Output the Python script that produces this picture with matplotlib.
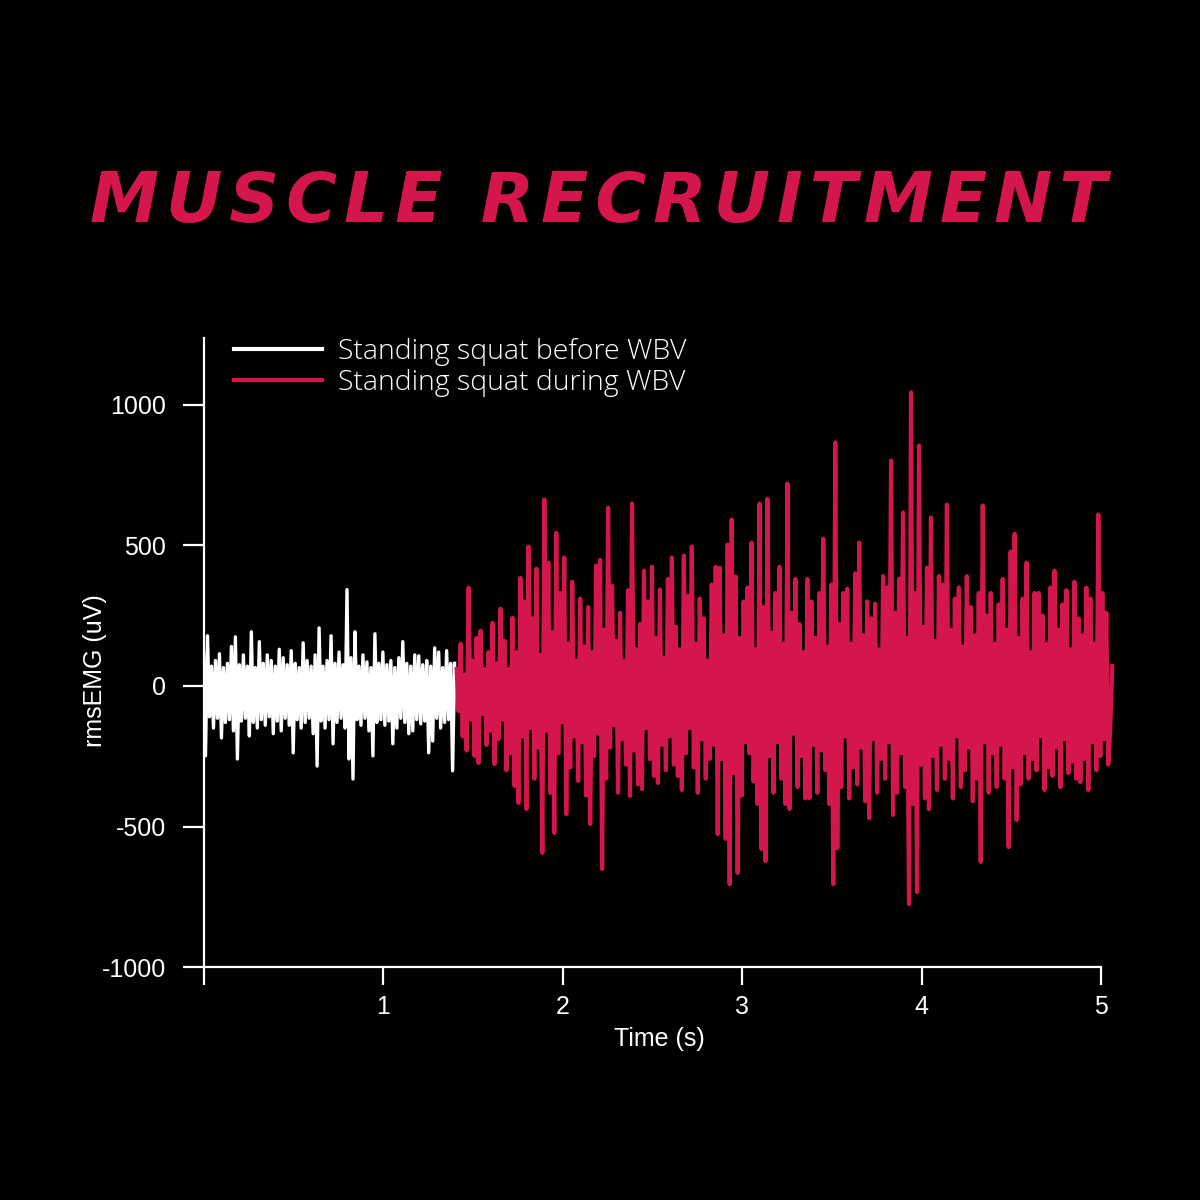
import numpy as np
import matplotlib
matplotlib.use("Agg")
import matplotlib.pyplot as plt
from matplotlib.lines import Line2D

# ---------------- data ----------------
dt = 0.0111          # sampling step in seconds
white_t0 = 0.0
red_t0 = 1.41

before_wbv = [
    120, -249, 178, -110, 70, -150, 90, -115, 114, -185,
    65, -130, 80, -120, 140, -160, 174, -260, 75, -125,
    110, -115, 70, -178, 192, -130, 65, -150, 157, -120,
    80, -140, 110, -110, 90, -170, 70, -125, 130, -160,
    100, -115, 75, -140, 125, -238, 80, -120, 65, -150,
    153, -130, 90, -115, 70, -170, 110, -285, 206, -125,
    70, -150, 90, -120, 178, -206, 80, -130, 120, -115,
    75, -150, 342, -260, 100, -331, 192, -120, 70, -140,
    110, -115, 85, -160, 65, -249, 185, -130, 80, -120,
    120, -140, 75, -125, 90, -206, 65, -150, 100, -115,
    157, -130, 80, -170, 70, -160, 110, -120, 107, -135,
    75, -125, 90, -238, 70, -196, 135, -115, 120, -150,
    65, -130, 125, -120, 80, -302, 80,
]

during_wbv = [
    60, -90, 150, -180, 40, -230, 349, -120, 90, -250,
    170, -274, 196, -100, 60, -210, 120, -160, 224, -278,
    80, -190, 274, -120, 160, -300, 60, -240, 242, -356,
    120, -416, 384, -180, 300, -438, 495, -150, 240, -330,
    416, -220, 110, -594, 662, -160, 438, -380, 190, -523,
    544, -240, 330, -130, 456, -456, 150, -290, 370, -180,
    90, -338, 310, -200, 140, -390, 280, -491, 120, -250,
    427, -170, 448, -651, 200, -330, 633, -220, 356, -140,
    160, -380, 260, -190, 90, -280, 340, -391, 648, -230,
    130, -350, 220, -367, 409, -150, 300, -260, 423, -320,
    170, -345, 342, -210, 100, -300, 380, -180, 456, -280,
    210, -320, 130, -370, 463, -240, 320, -150, 495, -290,
    150, -380, 310, -190, 240, -330, 90, -260, 360, -210,
    423, -527, 420, -260, 180, -544, 502, -705, 591, -310,
    388, -665, 170, -390, 300, -200, 350, -240, 509, -340,
    130, -420, 648, -580, 280, -623, 665, -250, 190, -380,
    330, -200, 423, -330, 150, -420, 719, -438, 260, -170,
    380, -360, 220, -250, 120, -400, 380, -399, 300, -210,
    170, -380, 330, -230, 523, -300, 140, -420, 360, -705,
    865, -577, 220, -360, 330, -180, 345, -400, 150, -290,
    400, -350, 509, -220, 180, -410, 300, -470, 240, -190,
    292, -380, 130, -260, 390, -330, 350, -200, 801, -459,
    260, -380, 380, -240, 616, -360, 170, -776, 1043, -420,
    330, -733, 854, -280, 210, -400, 420, -438, 598, -250,
    160, -370, 390, -210, 360, -330, 644, -260, 200, -400,
    310, -180, 350, -360, 140, -300, 390, -220, 280, -410,
    180, -330, 330, -626, 641, -200, 250, -380, 330, -240,
    150, -360, 290, -210, 380, -330, 200, -573, 477, -290,
    541, -477, 170, -350, 310, -240, 438, -330, 120, -260,
    330, -300, 330, -180, 250, -370, 150, -290, 350, -320,
    409, -220, 200, -360, 290, -190, 340, -310, 130, -270,
    370, -330, 240, -342, 180, -260, 349, -370, 310, -200,
    150, -300, 609, -250, 330, -190, 260, -280, -150, 70,
]

labels = ["Standing squat before WBV", "Standing squat during WBV"]
title = "MUSCLE RECRUITMENT"
x_ticks = [0, 1, 2, 3, 4, 5]
x_tick_labels = ["", "1", "2", "3", "4", "5"]
y_ticks = [-1000, -500, 0, 500, 1000]
y_tick_labels = ["-1000", "-500", "0", "500", "1000"]

# ---------------- style ----------------
BG = "black"
RED = "#D4164C"
WHITE = "white"

fig = plt.figure(figsize=(12, 12), dpi=100, facecolor=BG)
ax = fig.add_axes([0.1696, 0.194, 0.76, 0.524], facecolor=BG)

t_white = white_t0 + dt * np.arange(len(before_wbv))
t_red = red_t0 + dt * np.arange(len(during_wbv))

ax.plot(t_white, before_wbv, color=WHITE, lw=2.4)
ax.plot(t_red, during_wbv, color=RED, lw=3.0)

ax.set_xlim(0, 5.08)
ax.set_ylim(-1000, 1235)

for s in ["top", "right"]:
    ax.spines[s].set_visible(False)
for s in ["left", "bottom"]:
    ax.spines[s].set_color(WHITE)
    ax.spines[s].set_linewidth(1.6)
ax.spines["bottom"].set_bounds(0, 5)

tick_font = "Liberation Sans"
ax.set_xticks(x_ticks)
ax.set_xticklabels(x_tick_labels, fontsize=18, color=WHITE, family=tick_font)
ax.set_yticks(y_ticks)
ax.set_yticklabels(y_tick_labels, fontsize=18, color=WHITE, family=tick_font)
ax.tick_params(axis="y", length=15, width=1.6, color=WHITE, pad=12)
ax.tick_params(axis="x", length=13, width=1.6, color=WHITE, pad=7)

ax.set_xlabel("Time (s)", fontsize=18, color=WHITE, family=tick_font, labelpad=6)
ax.set_ylabel("rmsEMG (uV)", fontsize=18, color=WHITE, family=tick_font)
ax.yaxis.set_label_coords(-0.106, 0.472)

handles = [Line2D([], [], color=WHITE, lw=3), Line2D([], [], color=RED, lw=3)]
leg = ax.legend(handles, labels, loc="upper left", bbox_to_anchor=(0.033, 1.0),
                frameon=False, borderpad=0, borderaxespad=0,
                handlelength=3.1, handletextpad=0.55, labelspacing=0.1,
                prop={"family": "Open Sans", "size": 20.5, "weight": "light"})
for txt in leg.get_texts():
    txt.set_color(WHITE)

spaced_title = "\u200a".join(title)
fig.text(0.499, 1 - 222 / 1200, spaced_title, ha="center", va="baseline", color=RED,
         fontsize=50, fontweight="bold", fontstyle="italic", family="DejaVu Sans")

fig.savefig("out.png", dpi=100, facecolor=BG)
